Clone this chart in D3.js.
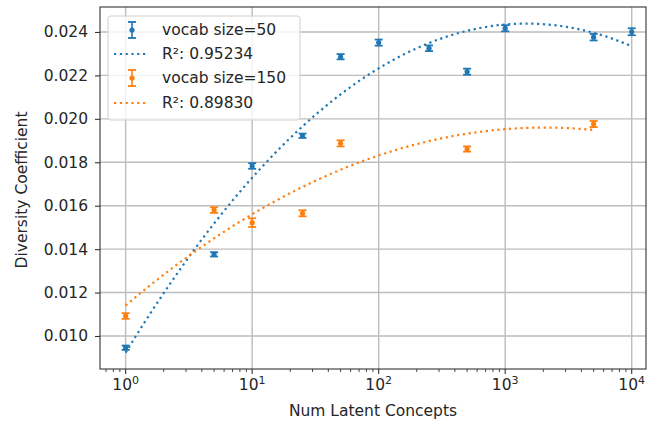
<!DOCTYPE html>
<html>
<head>
<meta charset="utf-8">
<script src="https://cdn.jsdelivr.net/npm/d3@7"></script>
<style>
  body { margin: 0; background: #fff; }
  text { font-family: "DejaVu Sans", sans-serif; fill: #262626; }
</style>
</head>
<body>
<div id="chart"></div>
<script>
// values
const concepts50 = [1, 5, 10, 25, 50, 100, 250, 500, 1000, 5000, 10000];
const diversity50 = [0.00946, 0.01376, 0.01783, 0.01922, 0.02286, 0.02351, 0.02325, 0.02217, 0.02417, 0.02376, 0.02401];
const err50 = [0.0001, 0.0001, 0.00013, 0.0001, 0.00012, 0.00014, 0.00013, 0.00014, 0.00014, 0.00015, 0.00016];

const concepts150 = [1, 5, 10, 25, 50, 500, 5000];
const diversity150 = [0.01092, 0.01580, 0.01522, 0.01565, 0.01887, 0.01861, 0.01976];
const err150 = [0.00013, 0.00013, 0.0002, 0.00014, 0.00014, 0.00012, 0.00014];

const yTicks = [0.010, 0.012, 0.014, 0.016, 0.018, 0.020, 0.022, 0.024];
const xTicks = [1, 10, 100, 1000, 10000];
const legendLabels = ["vocab size=50", "R\u00b2: 0.95234", "vocab size=150", "R\u00b2: 0.89830"];

const margin = {top: 7, right: 3, bottom: 60, left: 100},
width = 649 - margin.left - margin.right,
height = 429 - margin.top - margin.bottom;

const blue = "#1f77b4", orange = "#ff7f0e";

const svg = d3.select("#chart")
.append("svg")
.attr("width", 649)
.attr("height", 429)
.append("g")
.attr("transform", `translate(${margin.left}, ${margin.top})`);

const x = d3.scaleLog()
.domain([0.627, 12970])
.range([0, width]);

const y = d3.scaleLinear()
.domain([0.00848, 0.02515])
.range([height, 0]);

// grid
svg.append("g")
.selectAll("line")
.data(xTicks)
.join("line")
.attr("x1", d => x(d)).attr("x2", d => x(d))
.attr("y1", 0).attr("y2", height)
.attr("stroke", "#bdbdbd").attr("stroke-width", 1.4);

svg.append("g")
.selectAll("line")
.data(yTicks)
.join("line")
.attr("x1", 0).attr("x2", width)
.attr("y1", d => y(d)).attr("y2", d => y(d))
.attr("stroke", "#bdbdbd").attr("stroke-width", 1.4);

// quadratic least squares fit in log10(x)
function quadFit(xs, ys) {
  const u = xs.map(v => Math.log10(v));
  const S = [0, 0, 0, 0, 0], T = [0, 0, 0];
  u.forEach((ui, i) => {
    for (let k = 0; k < 5; k++) S[k] += Math.pow(ui, k);
    for (let k = 0; k < 3; k++) T[k] += ys[i] * Math.pow(ui, k);
  });
  const A = [[S[0], S[1], S[2], T[0]], [S[1], S[2], S[3], T[1]], [S[2], S[3], S[4], T[2]]];
  for (let i = 0; i < 3; i++) {
    for (let j = i + 1; j < 3; j++) {
      const f = A[j][i] / A[i][i];
      for (let k = i; k < 4; k++) A[j][k] -= f * A[i][k];
    }
  }
  const c = [0, 0, 0];
  for (let i = 2; i >= 0; i--) {
    let s = A[i][3];
    for (let k = i + 1; k < 3; k++) s -= A[i][k] * c[k];
    c[i] = s / A[i][i];
  }
  return c;
}

function drawFit(xs, ys, color) {
  const c = quadFit(xs, ys);
  const u0 = Math.log10(d3.min(xs)), u1 = Math.log10(d3.max(xs));
  const pts = d3.range(0, 101).map(i => {
    const u = u0 + (u1 - u0) * i / 100;
    return [Math.pow(10, u), c[0] + c[1] * u + c[2] * u * u];
  });
  svg.append("path")
  .datum(pts)
  .attr("fill", "none")
  .attr("stroke", color)
  .attr("stroke-width", 2.2)
  .attr("stroke-dasharray", "2.2 3.6")
  .attr("d", d3.line().x(d => x(d[0])).y(d => y(d[1])));
}

drawFit(concepts50, diversity50, blue);
drawFit(concepts150, diversity150, orange);

function drawErrorbars(xs, ys, es, color) {
  const g = svg.append("g");
  xs.forEach((xv, i) => {
    const cx = x(xv), lo = y(ys[i] - es[i]), hi = y(ys[i] + es[i]);
    g.append("line").attr("x1", cx).attr("x2", cx).attr("y1", lo).attr("y2", hi)
    .attr("stroke", color).attr("stroke-width", 1.6);
    [lo, hi].forEach(yy => {
      g.append("line").attr("x1", cx - 4).attr("x2", cx + 4).attr("y1", yy).attr("y2", yy)
      .attr("stroke", color).attr("stroke-width", 1.8);
    });
    g.append("circle").attr("cx", cx).attr("cy", y(ys[i])).attr("r", 2.6).attr("fill", color);
  });
}

drawErrorbars(concepts150, diversity150, err150, orange);
drawErrorbars(concepts50, diversity50, err50, blue);

// axes
const yAxis = svg.append("g")
.call(d3.axisLeft(y).tickValues(yTicks).tickFormat(d3.format(".3f")).tickSize(5).tickPadding(7));
yAxis.select(".domain").remove();
yAxis.selectAll("line").attr("stroke", "#333").attr("stroke-width", 1.1);
yAxis.selectAll("text").style("font-size", "15.5px").attr("fill", "#262626").attr("font-family", "DejaVu Sans");

const minor = [];
[0.1, 1, 10, 100, 1000, 10000].forEach(dec => {
  for (let k = 2; k <= 9; k++) {
    const v = dec * k;
    if (v > x.domain()[0] && v < x.domain()[1]) minor.push(v);
  }
});

svg.append("g")
.selectAll("line")
.data(minor)
.join("line")
.attr("x1", d => x(d)).attr("x2", d => x(d))
.attr("y1", height).attr("y2", height + 3)
.attr("stroke", "#333").attr("stroke-width", 0.9);

svg.append("g")
.selectAll("line")
.data(xTicks)
.join("line")
.attr("x1", d => x(d)).attr("x2", d => x(d))
.attr("y1", height).attr("y2", height + 5)
.attr("stroke", "#333").attr("stroke-width", 1.1);

const xl = svg.append("g")
.selectAll("text")
.data(xTicks)
.join("text")
.attr("x", d => x(d))
.attr("y", height + 21)
.attr("text-anchor", "middle")
.style("font-size", "15.5px");
xl.append("tspan").text("10");
xl.append("tspan").attr("dy", -6).style("font-size", "11px").text(d => Math.round(Math.log10(d)));

// frame
svg.append("rect")
.attr("width", width).attr("height", height)
.attr("fill", "none").attr("stroke", "#333").attr("stroke-width", 1.1);

svg.append("text")
.attr("x", width / 2)
.attr("y", height + 47)
.attr("text-anchor", "middle")
.style("font-size", "15.5px")
.text("Num Latent Concepts");

svg.append("text")
.attr("transform", `translate(${22 - margin.left}, ${190 - margin.top}) rotate(-90)`)
.attr("text-anchor", "middle")
.attr("dy", "0.35em")
.style("font-size", "15.5px")
.text("Diversity Coefficient");

// legend
const lg = svg.append("g").attr("transform", "translate(8, 9)");
lg.append("rect")
.attr("width", 192).attr("height", 104).attr("rx", 3)
.attr("fill", "white").attr("fill-opacity", 0.8)
.attr("stroke", "#d0d0d0").attr("stroke-width", 1);

const rowY = [14, 38, 62, 87];
const colors = [blue, blue, orange, orange];
legendLabels.forEach((t, i) => {
  const ry = rowY[i];
  if (i % 2 === 0) {
    lg.append("line").attr("x1", 24).attr("x2", 24).attr("y1", ry - 8).attr("y2", ry + 8)
    .attr("stroke", colors[i]).attr("stroke-width", 1.6);
    [ry - 8, ry + 8].forEach(yy => lg.append("line").attr("x1", 20).attr("x2", 28).attr("y1", yy).attr("y2", yy)
      .attr("stroke", colors[i]).attr("stroke-width", 1.8));
    lg.append("circle").attr("cx", 24).attr("cy", ry).attr("r", 2.6).attr("fill", colors[i]);
  } else {
    lg.append("line").attr("x1", 6).attr("x2", 40).attr("y1", ry).attr("y2", ry)
    .attr("stroke", colors[i]).attr("stroke-width", 2.2).attr("stroke-dasharray", "2.2 3.6");
  }
  lg.append("text").attr("x", 54).attr("y", ry).attr("dy", "0.35em")
  .style("font-size", "15.5px").text(t);
});
</script>
</body>
</html>
